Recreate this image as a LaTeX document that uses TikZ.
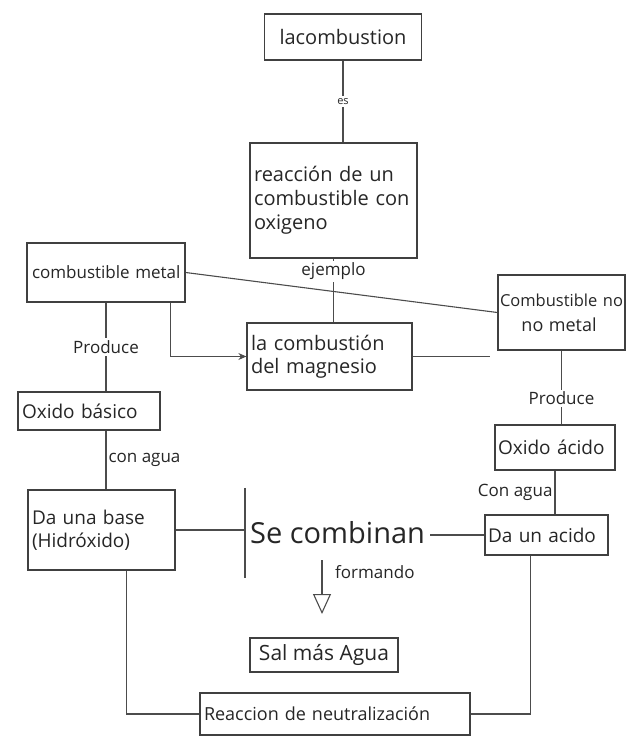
\documentclass[tikz,border=0pt]{standalone}
\usepackage{fontspec}
\setmainfont{Open Sans}
\usetikzlibrary{arrows.meta,calc}
\begin{document}
\begin{tikzpicture}[x=1pt,y=-1pt,
  box/.style={draw=black!75, line width=1.3pt, rectangle, inner sep=4pt,
    align=left, text=black!85, font=\fontsize{17}{22}\selectfont},
  link/.style={draw=black!70, line width=1.1pt},
  lbl/.style={fill=white, inner sep=2pt, text=black!85, font=\fontsize{17}{19}\selectfont}]
\useasboundingbox (0,0) rectangle (627,743);

% concept boxes
\node[box, minimum width=157pt, minimum height=46pt, align=center, font=\fontsize{20}{22}\selectfont] (comb) at (343,37) {lacombustion};
\node[box, minimum width=167pt, minimum height=115pt, text width=159pt, font=\fontsize{20}{24}\selectfont] (reac) at (333.5,200.5) {reacción de un\\combustible con\\oxigeno};
\node[box, minimum width=158pt, minimum height=59pt, text width=154pt, inner sep=2pt, font=\fontsize{17}{22}\selectfont] (metal) at (106,272.5) {\hspace*{3pt}combustible metal};
\node[box, minimum width=165pt, minimum height=67pt, text width=157pt, font=\fontsize{20}{23}\selectfont] (magnesio) at (329.5,356.5) {la combustión\\del magnesio};
\node[box, minimum width=127pt, minimum height=75pt, text width=123pt, inner sep=2pt, font=\fontsize{16.5}{25}\selectfont] (nometal) at (561.5,312.5) {Combustible no\\\hspace*{1.3em}{\fontsize{18}{25}\selectfont no metal}};
\node[box, minimum width=142pt, minimum height=38pt, text width=134pt, font=\fontsize{19}{20}\selectfont] (oxbas) at (89,411) {Oxido básico};
\node[box, minimum width=147pt, minimum height=80pt, text width=139pt, font=\fontsize{19}{23}\selectfont] (base) at (101.5,530) {Da una base\\(Hidróxido)};
\node[box, minimum width=120pt, minimum height=45pt, text width=114pt, inner sep=3pt, font=\fontsize{19}{20}\selectfont] (oxacido) at (555,447.5) {Oxido ácido};
\node[box, minimum width=123pt, minimum height=40pt, text width=117pt, inner sep=3pt, font=\fontsize{19}{20}\selectfont] (unacido) at (546.5,535) {Da un acido};
\node[anchor=west, minimum height=90pt, inner sep=5pt, text=black!85, font=\fontsize{29}{32}\selectfont] (combinan) at (245,533) {Se combinan};
\node[box, minimum width=148pt, minimum height=34pt, align=center, inner sep=2pt, font=\fontsize{21}{22}\selectfont] (sal) at (324,655) {Sal más Agua};
\node[box, minimum width=270pt, minimum height=42pt, text width=262pt, font=\fontsize{18}{20}\selectfont] (neutral) at (335,714) {Reaccion de neutralización};

% bar in front of "Se combinan"
\draw[link, line width=1.4pt] (combinan.north west) -- (combinan.south west);

% free ends
\coordinate (mgend) at (490,356.5);
\coordinate (fa) at (322,560);
\coordinate (fb) at (322,614);

% connectors
\draw[link] (comb.south) -- (comb.south |- reac.north) node[midway, lbl, font=\fontsize{11}{12}\selectfont] {es};
\draw[link] (reac.south) -- (reac.south |- magnesio.north) node[pos=0.2, lbl] {ejemplo};
\draw[link] (metal.east) -- (nometal.west);
\draw[link, -{Stealth[length=8pt,width=7pt]}] ($(metal.south east)+(-15,0)$) |- (magnesio.west);
\draw[link] (magnesio.east) -- (mgend);
\draw[link] (metal.south) -- (metal.south |- oxbas.north) node[midway, lbl] {Produce};
\draw[link] (oxbas.south -| metal.south) -- (base.north -| metal.south) node[midway, right, lbl] {con agua};
\draw[link] (nometal.south) -- (nometal.south |- oxacido.north) node[pos=0.65, lbl] {Produce};
\draw[link] (oxacido.south) -- (oxacido.south |- unacido.north) node[midway, left, lbl] {Con agua};
\draw[link] (base.east) -- (base.east -| combinan.west);
\draw[link] (combinan.east |- unacido.west) -- (unacido.west);
\draw[link, -{Triangle[open, length=20pt, width=18pt]}] (fa) -- (fb);
\node[lbl, anchor=west, fill=none] (formando) at (333,572) {formando};
\draw[link] ($(base.south)+(25,0)$) |- (neutral.west);
\draw[link] ($(unacido.south)+(-16,0)$) |- (neutral.east);
\end{tikzpicture}
\end{document}
